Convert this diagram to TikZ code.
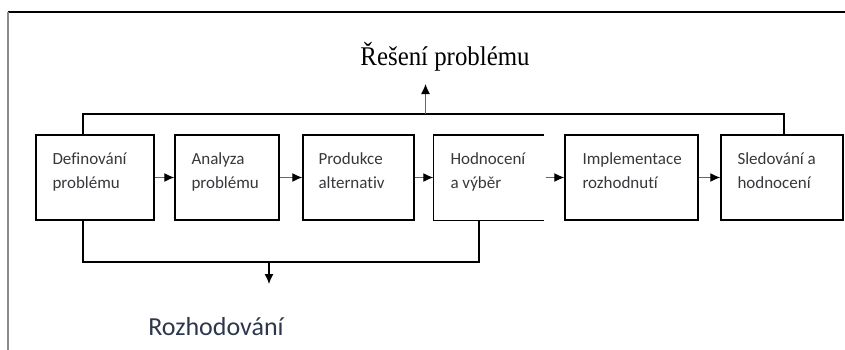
\documentclass[tikz,border=0pt]{standalone}
\usepackage{fontspec}
\setmainfont{Liberation Serif}
\newfontfamily\carl[Ligatures={NoCommon,NoContextual}]{Carlito}
\usetikzlibrary{arrows.meta,calc}
\definecolor{txtgray}{RGB}{55,55,60}
\definecolor{txtblue}{RGB}{45,55,75}
\tikzset{
  stepbox/.style={draw=black, line width=1.4pt, rectangle, minimum height=85pt, inner sep=0pt},
  boxtext/.style={anchor=north west, align=left, inner sep=0pt, text=txtgray,
    font=\carl\fontsize{17}{24}\selectfont},
  conn/.style={line width=1.2pt, draw=black},
  flow/.style={line width=1.2pt, draw=black!60, -{Latex[length=10pt,width=9pt,color=black]}},
}
\begin{document}
\begin{tikzpicture}[x=1pt,y=-1pt]
\useasboundingbox (0,0) rectangle (845,349);
% outer frame
\draw[line width=1.5pt, black] (8,12) -- (846,12);
\draw[line width=2pt, black!45] (8,12) -- (8,350);

% boxes
\node[stepbox, minimum width=118pt] (b1) at (95,177.5) {};
\node[stepbox, minimum width=104pt] (b2) at (227,177.5) {};
\node[stepbox, minimum width=111pt] (b3) at (358.5,177.5) {};
\node[rectangle, minimum width=110pt, minimum height=85pt, inner sep=0pt] (b4) at (488.5,177.5) {};
\draw[line width=1.4pt] (b4.north east) -- (b4.north west) -- (b4.south west) -- (b4.south east);
\node[stepbox, minimum width=133pt] (b5) at (631.5,177.5) {};
\node[stepbox, minimum width=122pt] (b6) at (782,177.5) {};

% box texts
\node[boxtext] (t1) at ($(b1.north west)+(17,18)$) {Definování\\problému};
\node[boxtext] (t2) at ($(b2.north west)+(17,18)$) {Analyza\\problému};
\node[boxtext] (t3) at ($(b3.north west)+(16,18)$) {Produkce\\alternativ};
\node[boxtext] (t4) at ($(b4.north west)+(17,18)$) {Hodnocení\\a výběr};
\node[boxtext] (t5) at ($(b5.north west)+(18,18)$) {Implementace\\rozhodnutí};
\node[boxtext] (t6) at ($(b6.north west)+(17,18)$) {Sledování a\\hodnocení};

% flow arrows
\draw[flow] (b1.east) -- (b2.west);
\draw[flow] (b2.east) -- (b3.west);
\draw[flow] (b3.east) -- (b4.west);
\draw[flow] ($(b4.east)+(2,0)$) -- (b5.west);
\draw[flow] (b5.east) -- (b6.west);

% top bracket
\coordinate (tl) at (83,135);
\coordinate (tr) at (784,135);
\coordinate (tm) at (425.5,114);
\draw[conn] (tl) -- (83,114) -- (784,114) -- (tr);
\node[font=\fontsize{27}{30}\selectfont, text=black] (top) at (445,57) {\scalebox{0.92}[1]{Řešení problému}};
\draw[line width=1.2pt, black!60, -{Latex[length=10pt,width=9pt,color=black]}] (tm) -- (425.5,84);

% bottom bracket
\coordinate (bl) at (83,220);
\coordinate (br) at (479,220);
\coordinate (bm) at (269,262);
\draw[conn] (bl) -- (83,262) -- (479,262) -- (br);
\node[font=\carl\fontsize{26}{30}\selectfont, text=txtblue] (bot) at (216,327) {Rozhodování};
\draw[line width=1.2pt, black, -{Latex[length=10pt,width=9pt]}] (bm) -- (269,284);
\end{tikzpicture}
\end{document}
